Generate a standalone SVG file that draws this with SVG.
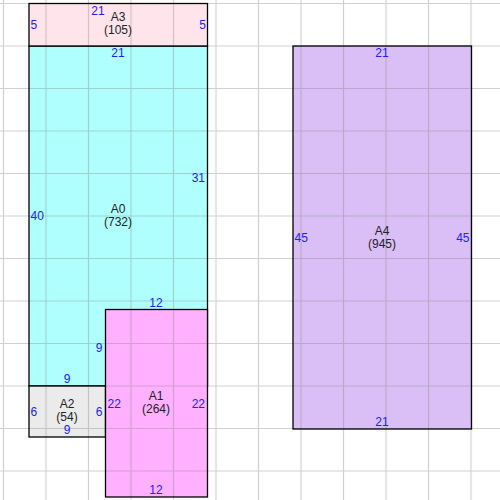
<svg xmlns="http://www.w3.org/2000/svg" width="500" height="500" viewBox="0 0 500 500">
<style>
text{font-family:"Liberation Sans",Arial,sans-serif;font-size:12px}
.e{fill:#2222ee}
.n{fill:#222;text-anchor:middle}
.m{text-anchor:middle}
.r{text-anchor:end}
.b{fill:none;stroke:#000;stroke-width:1.3}
.g{fill:url(#grid)}
</style>
<defs>
<pattern id="grid" patternUnits="userSpaceOnUse" x="-17.75" y="-17.75" width="42.5" height="42.5">
<path d="M21.25 0V42.5M0 21.25H42.5" stroke="#808080" stroke-opacity="0.36" stroke-width="1.2" fill="none"/>
</pattern>
</defs>
<rect width="500" height="500" fill="#fff"/>
<rect width="500" height="500" class="g"/>
<g id="connectors"/>
<g id="A0">
<rect x="29" y="46" width="178.5" height="340" fill="#b0ffff"/>
<rect x="29" y="46" width="178.5" height="340" class="g"/>
<rect x="29" y="46" width="178.5" height="340" class="b"/>
<text class="e m" x="118" y="57">21</text>
<text class="e" x="30.5" y="220">40</text>
<text class="e r" x="205" y="182">31</text>
<text class="e m" x="67" y="383">9</text>
<text class="n" x="118" y="213">A0</text>
<text class="n" x="118" y="226">(732)</text>
</g>
<g id="A3">
<rect x="29" y="3.5" width="178.5" height="42.5" fill="#ffe4ec"/>
<rect x="29" y="3.5" width="178.5" height="42.5" class="g"/>
<rect x="29" y="3.5" width="178.5" height="42.5" class="b"/>
<text class="e m" x="98" y="15">21</text>
<text class="e" x="30.5" y="28.5">5</text>
<text class="e r" x="206" y="28.5">5</text>
<text class="n" x="118" y="21">A3</text>
<text class="n" x="118" y="34">(105)</text>
</g>
<g id="A2">
<rect x="29" y="386" width="76.5" height="51" fill="#ebebeb"/>
<rect x="29" y="386" width="76.5" height="51" class="g"/>
<rect x="29" y="386" width="76.5" height="51" class="b"/>
<text class="e" x="30.5" y="415.5">6</text>
<text class="e r" x="102.5" y="415.5">6</text>
<text class="e m" x="67" y="434">9</text>
<text class="n" x="67" y="408">A2</text>
<text class="n" x="67" y="421">(54)</text>
</g>
<g id="A1">
<rect x="105.5" y="309.5" width="102" height="187.5" fill="#ffb0ff"/>
<rect x="105.5" y="309.5" width="102" height="187.5" class="g"/>
<rect x="105.5" y="309.5" width="102" height="187.5" class="b"/>
<text class="e m" x="156" y="307">12</text>
<text class="e r" x="102.5" y="352">9</text>
<text class="e" x="107.5" y="407.5">22</text>
<text class="e r" x="205" y="407.5">22</text>
<text class="e m" x="156" y="494">12</text>
<text class="n" x="156" y="400">A1</text>
<text class="n" x="156" y="413">(264)</text>
</g>
<g id="A4">
<rect x="293" y="46" width="178.5" height="383" fill="#dabff6"/>
<rect x="293" y="46" width="178.5" height="383" class="g"/>
<rect x="293" y="46" width="178.5" height="383" class="b"/>
<text class="e m" x="382" y="57">21</text>
<text class="e" x="294.5" y="242">45</text>
<text class="e r" x="469.5" y="242">45</text>
<text class="e m" x="382" y="426">21</text>
<text class="n" x="382" y="235">A4</text>
<text class="n" x="382" y="248">(945)</text>
</g>
</svg>
